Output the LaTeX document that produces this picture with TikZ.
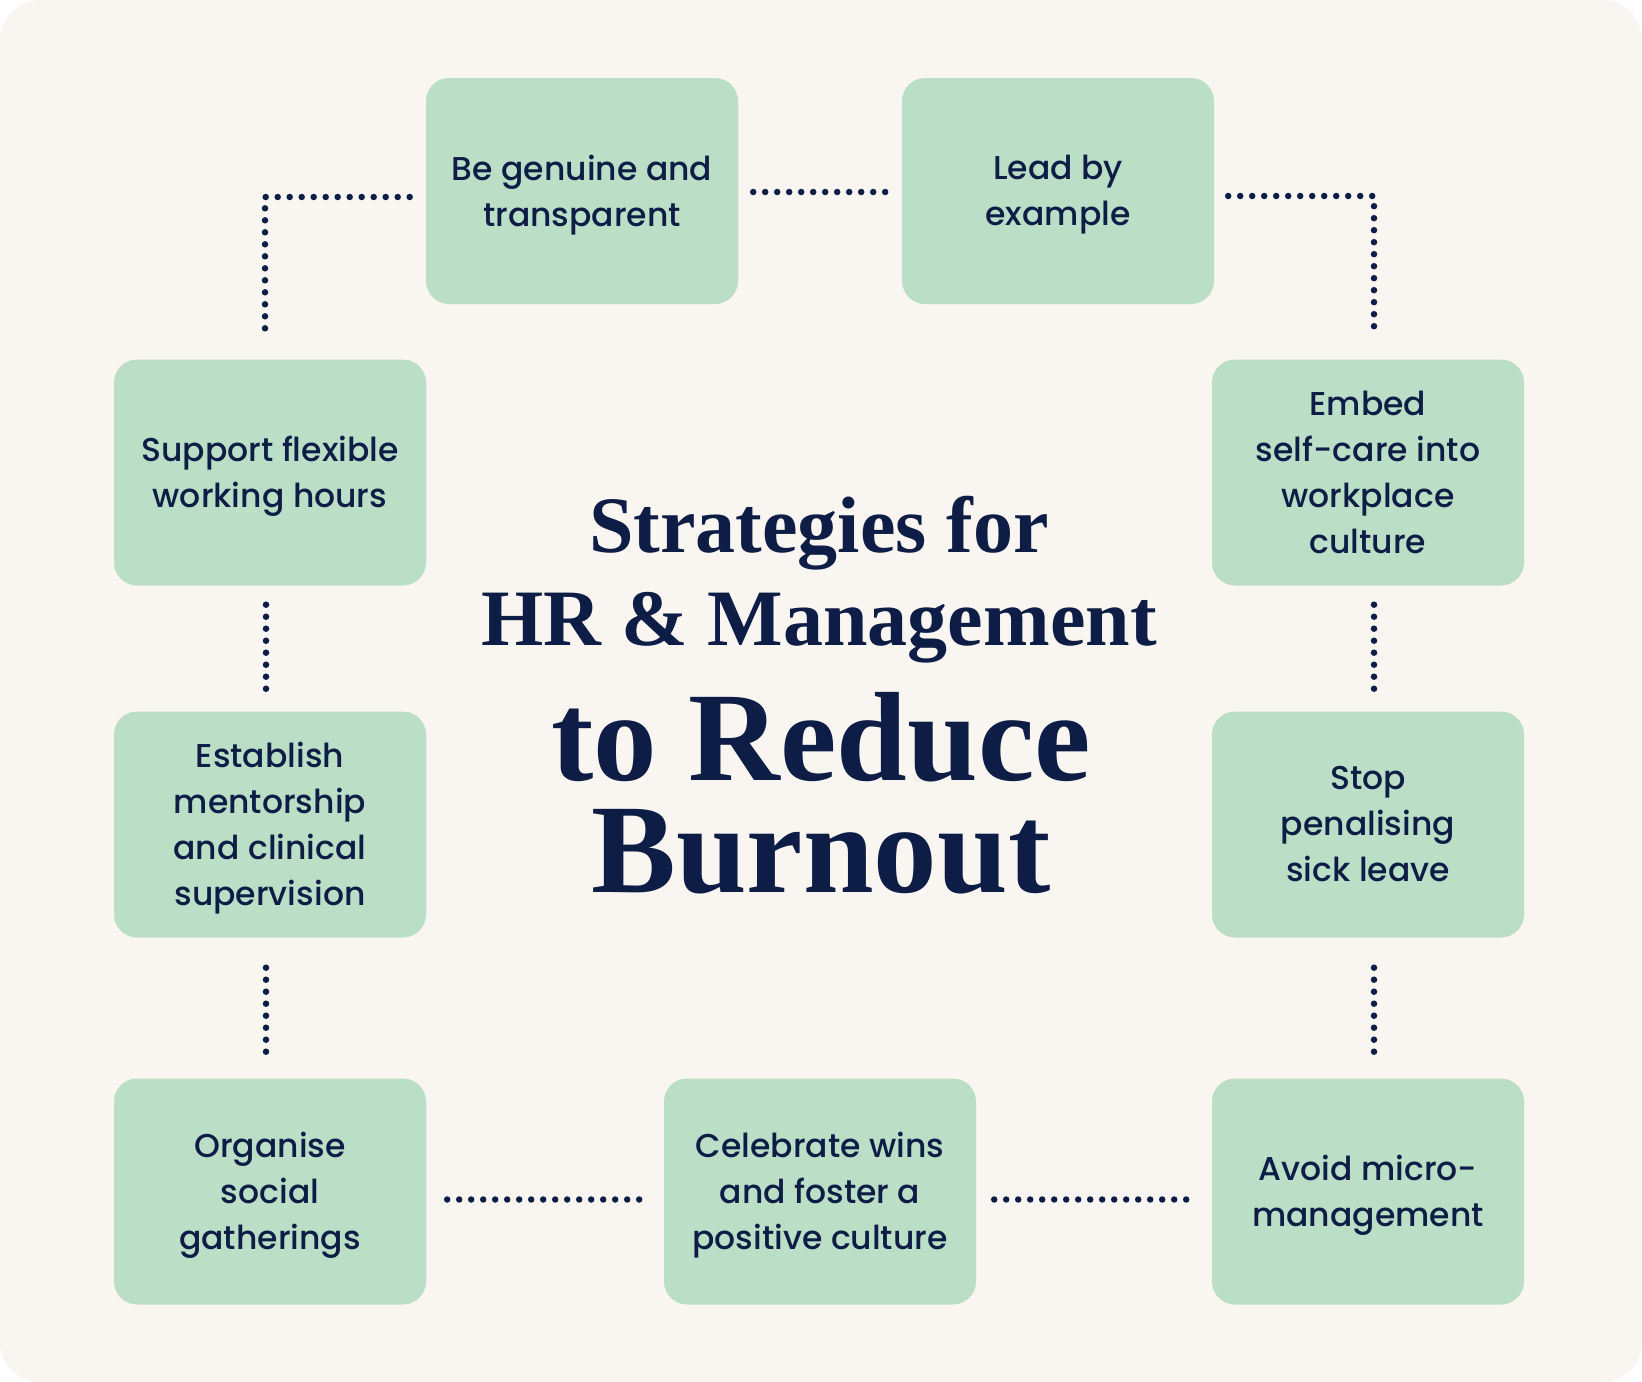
\documentclass[tikz,border=0pt]{standalone}
\usepackage{fontspec}
\setmainfont{Liberation Serif}
\newfontfamily\boxfont{Poppins Medium}
\usetikzlibrary{calc}
\definecolor{bgc}{HTML}{F9F6F1}
\definecolor{boxc}{HTML}{BBDEC6}
\definecolor{navy}{HTML}{0E1D45}
\begin{document}
\begin{tikzpicture}[x=1pt,y=-1pt,
  card/.style={fill=boxc, rounded corners=23pt, minimum width=312pt, minimum height=226pt,
    align=center, text=navy, font=\boxfont\fontsize{33}{46}\selectfont, inner sep=0pt,
    text depth=1pt},
  dotline/.style={draw=navy, line width=6.5pt, line cap=round, dash pattern=on 0pt off 12pt},
  ttl/.style={text=navy, anchor=base, inner sep=0pt, align=center}]
\fill[white] (0,0) rectangle (1642,1382);
\useasboundingbox (0,0) rectangle (1642,1382);
\fill[bgc, rounded corners=40pt] (0,0) rectangle (1642,1382);

\node[card] (g) at (582,191) {Be genuine and\\transparent};
\node[card] (l) at (1058,191) {Lead by\\example};
\node[card] (s) at (270,472.5) {Support flexible\\working hours};
\node[card] (e) at (1368,472.5) {Embed\\self-care into\\workplace\\culture};
\node[card] (m) at (270,824.5) {Establish\\mentorship\\and clinical\\supervision};
\node[card] (p) at (1368,824.5) {Stop\\penalising\\sick leave};
\node[card] (o) at (270,1191.5) {Organise\\social\\gatherings};
\node[card] (c) at (820,1191.5) {Celebrate wins\\and foster a\\positive culture};
\node[card] (a) at (1368,1191.5) {Avoid micro-\\management};

\node[ttl, font=\bfseries\fontsize{80}{93}\selectfont] (t12) at (819,645) {Strategies for\\HR \& Management};
\node[ttl, font=\bfseries\fontsize{127}{112}\selectfont] (t34) at (821,892) {to Reduce\\Burnout};

\draw[dotline] ($(s.north)+(-5,-31)$) |- ($(g.west)+(-13,6)$);
\draw[dotline] ($(g.east)+(15,1)$) -- ($(l.west)+(-13,1)$);
\draw[dotline] ($(l.east)+(14,5)$) -| ($(e.north)+(6,-29)$);
\draw[dotline] ($(s.south)+(-4,19)$) -- ($(m.north)+(-4,-18)$);
\draw[dotline] ($(m.south)+(-4,30)$) -- ($(o.north)+(-4,-23)$);
\draw[dotline] ($(e.south)+(6,19)$) -- ($(p.north)+(6,-18)$);
\draw[dotline] ($(p.south)+(6,30)$) -- ($(a.north)+(6,-23)$);
\draw[dotline] ($(o.east)+(21,8)$) -- ($(c.west)+(-18,8)$);
\draw[dotline] ($(c.east)+(18,8)$) -- ($(a.west)+(-18,8)$);
\end{tikzpicture}
\end{document}
